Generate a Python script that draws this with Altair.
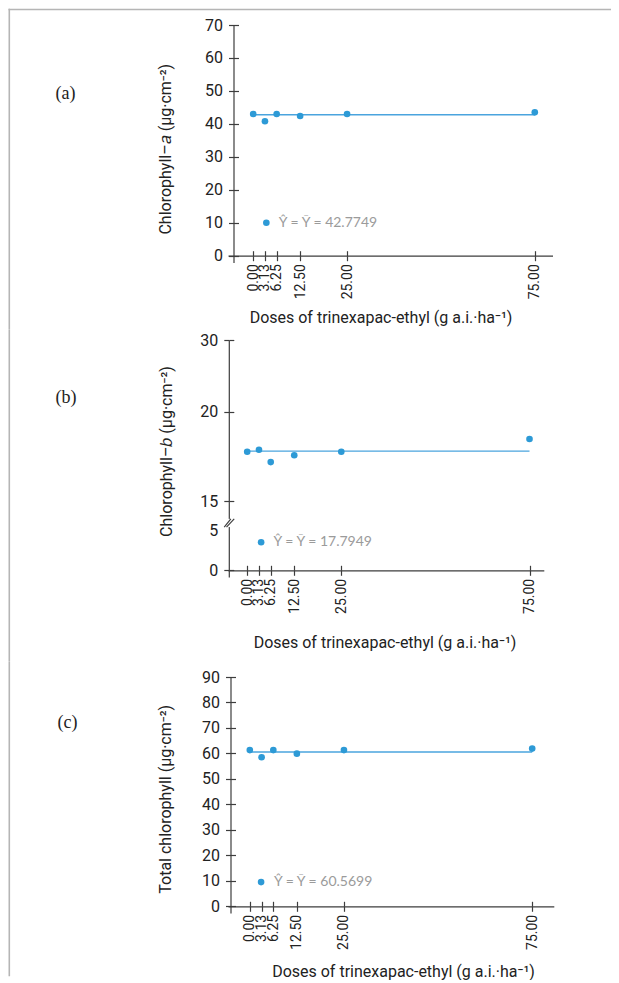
import altair as alt
import pandas as pd

# ---------------- data ----------------
doses = [0.0, 3.13, 6.25, 12.5, 25.0, 75.0]
chl_a = [43.0, 40.8, 43.0, 42.4, 43.0, 43.5]
chl_b = [17.76, 17.87, 17.18, 17.56, 17.76, 18.47]
chl_total = [61.3, 58.5, 61.3, 59.9, 61.3, 61.9]
means = [42.7749, 17.7949, 60.5699]
eq_labels = ["Ŷ = Ȳ = 42.7749", "Ŷ = Ȳ = 17.7949", "Ŷ = Ȳ = 60.5699"]
legend_dot_x = [3.5, 3.7, 3.0]
legend_dot_y = [10.0, 3.5, 9.5]
legend_text_x = [6.8, 7.0, 6.4]
panel_letters = ["(a)", "(b)", "(c)"]
y_titles = ["Chlorophyll–𝑎 (µg·cm⁻²)", "Chlorophyll–𝑏 (µg·cm⁻²)", "Total chlorophyll (µg·cm⁻²)"]
x_title = "Doses of trinexapac-ethyl (g a.i.·ha⁻¹)"
y_ticks_a = [0, 10, 20, 30, 40, 50, 60, 70]
y_ticks_b = [0, 5, 15, 20, 30]
y_ticks_c = [0, 10, 20, 30, 40, 50, 60, 70, 80, 90]
break_x1 = [-6.1, -5.5]
break_x2 = [-4.35, -3.45]
break_y1 = [6.1, 6.1]
break_y2 = [8.9, 8.9]

# ---------------- style ----------------
BLUE = "#2d9ad6"
LINE = "#4aa4de"
AX = "#3d3d3d"
TXT = "#222222"
GRAY = "#9b9b9b"
FRAME = "#b5b5b5"
SANS = "Roboto"
LEG = "Lato"
SERIF = "Liberation Serif"
LEFT = 227.5  # absolute x of plot-area left edge
FRAME_W = 1.6

# pixel layout of each panel (absolute page coordinates)
lay_a = dict(top=24.3, y0=255.0, ybot=261.7, yaxis=233.0, x0=252.7, x75=534.3, xr=552.0,
             ytop=70, fr_top=8.0, fr_bot=329.0, lab=(55, 93), xt=(380, 316.7), yt=(170, 148))
lay_b = dict(top=339.0, y0=569.3, ybot=576.0, yaxis=228.3, x0=246.7, x75=529.0, xr=543.3,
             ytop=30, fr_top=329.0, fr_bot=660.0, lab=(55, 397), xt=(384, 641.7), yt=(171, 450))
lay_c = dict(top=675.7, y0=905.0, ybot=911.7, yaxis=230.0, x0=249.3, x75=531.7, xr=553.3,
             ytop=90, fr_top=660.0, fr_bot=975.0, lab=(57, 722), xt=(402.5, 970), yt=(170, 797.5))
# piecewise positions (absolute y) of the broken axis in panel (b)
b_tick_px = {5: 529.3, 15: 500.0, 20: 410.7}


def panel(i, vals, lay, yticks, piecewise=False, top_frame=False, breaks=False):
    top = lay["top"]
    ppx = (lay["x75"] - lay["x0"]) / 75.0
    xmin = (LEFT - lay["x0"]) / ppx
    xmax = (lay["xr"] - lay["x0"]) / ppx
    width = lay["xr"] - LEFT
    height = lay["ybot"] - top
    yoff = -(lay["yaxis"] - LEFT)
    xoff = -(lay["ybot"] - lay["y0"])
    over = lay["ybot"] - lay["y0"]

    if piecewise:
        ppy0 = (lay["y0"] - b_tick_px[5]) / 5.0
        ymin = -over / ppy0
        dom = [ymin, 0, 5, 15, 20, 30]
        rng = [height, lay["y0"] - top, b_tick_px[5] - top, b_tick_px[15] - top,
               b_tick_px[20] - top, 0]
        ys = alt.Scale(domain=dom, range=rng, nice=False, zero=False)
        tick_op = alt.condition("datum.value == 5", alt.value(0), alt.value(1))
    else:
        ppy = (lay["y0"] - top) / lay["ytop"]
        ymin = -over / ppy
        ys = alt.Scale(domain=[ymin, lay["ytop"]], nice=False, zero=False)
        tick_op = 1
    xs = alt.Scale(domain=[xmin, xmax], nice=False, zero=False)

    x_main = alt.Axis(orient="bottom", values=doses, format=".2f", labelAngle=-90,
                      labelFont=SANS, labelFontSize=14, labelColor=TXT, labelPadding=3,
                      labelOverlap=False, labelFlush=False, tickSize=5, offset=xoff,
                      title=x_title, titleX=lay["xt"][0] - LEFT, titleY=lay["xt"][1] - lay["y0"],
                      titleBaseline="middle", titleAlign="center")
    x_inner = alt.Axis(orient="bottom", values=doses, labels=False, domain=False,
                       tickSize=5, offset=xoff - 5, title=None)
    y_main = alt.Axis(orient="left", values=yticks, labelFont=SANS, labelFontSize=16,
                      labelColor=TXT, labelPadding=6, labelFlush=False, labelOverlap=False,
                      tickSize=5, tickOpacity=tick_op, offset=yoff,
                      title=y_titles[i], titleX=lay["yt"][0] - lay["yaxis"],
                      titleY=lay["yt"][1] - top, titleBaseline="alphabetic", titleAlign="center",
                      titleAngle=270)
    y_inner = alt.Axis(orient="left", values=yticks, labels=False, domain=False,
                       tickSize=5, tickOpacity=tick_op, offset=yoff - 5, title=None)

    pts = pd.DataFrame({"dose": doses, "val": vals})
    mean_df = pd.DataFrame({"dose": [doses[0], doses[-1]], "val": [means[i], means[i]]})
    leg_df = pd.DataFrame({"dose": [legend_dot_x[i]], "val": [legend_dot_y[i]],
                           "tx": [legend_text_x[i]], "label": [eq_labels[i]]})
    one = pd.DataFrame({"k": [0]})

    mean_line = alt.Chart(mean_df).mark_line(color=LINE, strokeWidth=1.3).encode(
        x=alt.X("dose:Q", scale=xs, axis=x_inner),
        y=alt.Y("val:Q", scale=ys, axis=y_inner),
    )
    points = alt.Chart(pts).mark_circle(size=44, color=BLUE, opacity=1).encode(
        x=alt.X("dose:Q", scale=xs, axis=x_main),
        y=alt.Y("val:Q", scale=ys, axis=y_main),
    )
    leg_dot = alt.Chart(leg_df).mark_circle(size=44, color=BLUE, opacity=1).encode(
        x=alt.X("dose:Q", scale=xs, axis=None),
        y=alt.Y("val:Q", scale=ys, axis=None),
    )
    leg_txt = alt.Chart(leg_df).mark_text(align="left", baseline="middle", font=LEG,
                                          fontSize=14, color=GRAY).encode(
        x=alt.X("tx:Q", scale=xs, axis=None),
        y=alt.Y("val:Q", scale=ys, axis=None),
        text="label:N",
    )
    letter = alt.Chart(one).mark_text(align="left", baseline="middle", font=SERIF,
                                      fontSize=18, color="#222222").encode(
        x=alt.value(lay["lab"][0] - LEFT),
        y=alt.value(lay["lab"][1] - top),
        text=alt.value(panel_letters[i]),
    )
    # page frame drawn as thin filled rects (exact bounds, no stroke growth)
    fx = 8.0 - LEFT
    frame_v = alt.Chart(one).mark_rect(color=FRAME, strokeWidth=0).encode(
        x=alt.value(fx), x2=alt.value(fx + FRAME_W),
        y=alt.value(lay["fr_top"] - top), y2=alt.value(lay["fr_bot"] - top),
    )
    layers = [mean_line, points, leg_dot, leg_txt, letter, frame_v]
    if top_frame:
        frame_h = alt.Chart(one).mark_rect(color=FRAME, strokeWidth=0).encode(
            x=alt.value(fx), x2=alt.value(610.5 - LEFT),
            y=alt.value(lay["fr_top"] - top), y2=alt.value(lay["fr_top"] - top + FRAME_W),
        )
        layers.append(frame_h)
    if breaks:
        axis_x = (lay["yaxis"] - lay["x0"]) / ppx
        gap_df = pd.DataFrame({"x": [axis_x], "y1": [break_y1[0]], "y2": [break_y2[0]]})
        gap = alt.Chart(gap_df).mark_rule(color="white", strokeWidth=4).encode(
            x=alt.X("x:Q", scale=xs, axis=None),
            y=alt.Y("y1:Q", scale=ys, axis=None),
            y2="y2:Q",
        )
        br_df = pd.DataFrame({"x1": break_x1, "x2": break_x2, "y1": break_y1, "y2": break_y2})
        br = alt.Chart(br_df).mark_rule(color=AX, strokeWidth=1.2).encode(
            x=alt.X("x1:Q", scale=xs, axis=None),
            x2="x2:Q",
            y=alt.Y("y1:Q", scale=ys, axis=None),
            y2="y2:Q",
        )
        layers += [gap, br]

    return alt.layer(*layers).resolve_axis(x="independent", y="independent").properties(
        width=width, height=height)


pa = panel(0, chl_a, lay_a, y_ticks_a, top_frame=True)
pb = panel(1, chl_b, lay_b, y_ticks_b, piecewise=True, breaks=True)
pc = panel(2, chl_total, lay_c, y_ticks_c)

chart = alt.vconcat(pa, pb, pc, spacing=0).properties(
    padding=0
).configure_view(
    stroke=None
).configure_axis(
    grid=False, domainColor=AX, tickColor=AX, domainWidth=1.2, tickWidth=1.2,
    titleFont=SANS, titleFontSize=16, titleFontWeight="normal", titleColor=TXT,
)

chart.save("out.html", embed_options={"renderer": "svg", "actions": False})
